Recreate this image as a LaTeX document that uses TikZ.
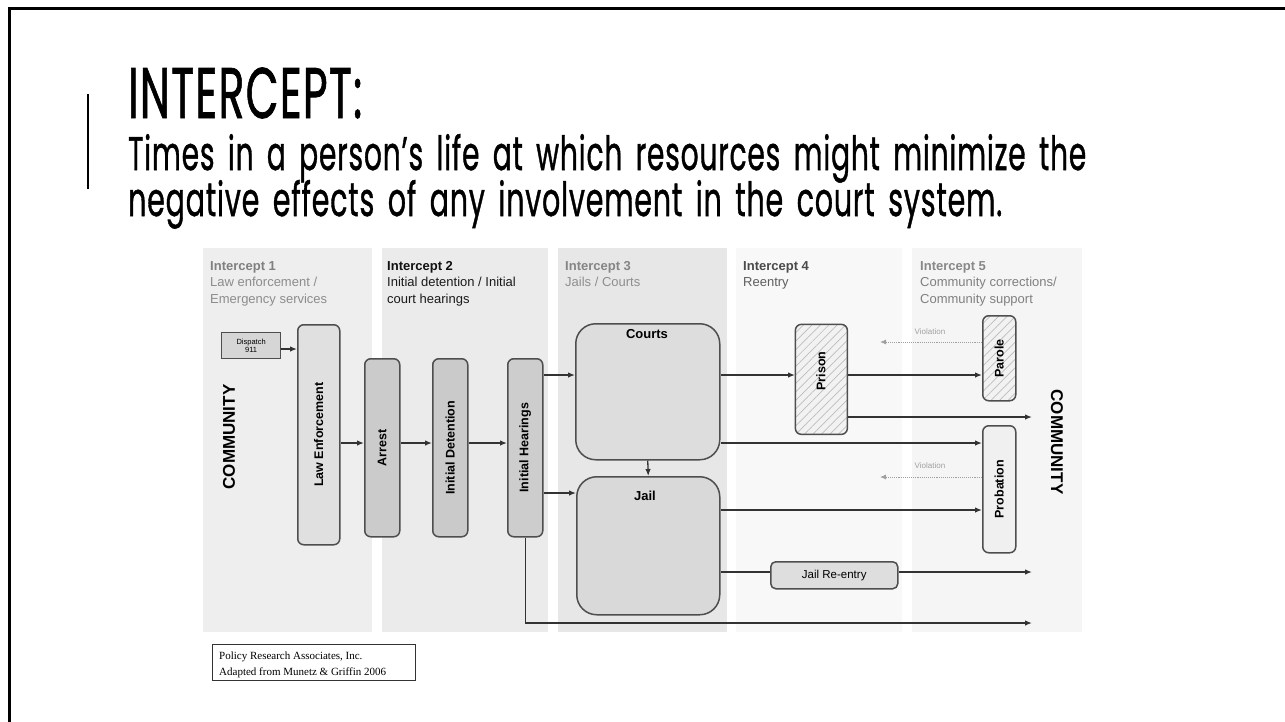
\documentclass[tikz,border=0pt]{standalone}
\usepackage{fontspec}
\usepackage{graphicx}
\setmainfont{Liberation Sans}
\newfontfamily\twfont[LetterSpace=3, WordSpace=1.6, FakeBold=1.2]{Poppins}
\newfontfamily\prafont{Liberation Serif}
\usetikzlibrary{arrows.meta,patterns.meta}
\definecolor{boxline}{HTML}{4E4E4E}
\definecolor{arrowc}{HTML}{333333}
\definecolor{pone}{HTML}{EEEEEE}
\definecolor{ptwo}{HTML}{EBEBEB}
\definecolor{pthree}{HTML}{E7E7E7}
\definecolor{pfour}{HTML}{F8F8F8}
\definecolor{pfive}{HTML}{F5F5F5}
\definecolor{hatchbg}{HTML}{F2F2F2}
\definecolor{hatchln}{HTML}{BDBDBD}
\definecolor{viol}{HTML}{A0A0A0}
\definecolor{cdisp}{HTML}{D6D6D6}
\definecolor{cle}{HTML}{E0E0E0}
\definecolor{carrest}{HTML}{CBCBCB}
\definecolor{cidet}{HTML}{CACACA}
\definecolor{cihear}{HTML}{CDCDCD}
\definecolor{ccourts}{HTML}{DDDDDD}
\definecolor{cjail}{HTML}{D9D9D9}
\definecolor{cprob}{HTML}{F0F0F0}
\definecolor{creentry}{HTML}{DEDEDE}
\begin{document}
\begin{tikzpicture}[x=1pt,y=-1pt,
  panel/.style={anchor=north west, inner sep=0pt, minimum height=384pt},
  head/.style={anchor=north west, inner sep=0pt, align=left, font=\fontsize{13}{16.5}\selectfont},
  box/.style={draw=boxline, line width=1.5pt, rounded corners=6pt, anchor=north west, inner sep=0pt,
              font=\bfseries\fontsize{12.5}{14}\selectfont},
  hatchbox/.style={box, preaction={fill=hatchbg},
              pattern={Lines[angle=45,distance=6pt,line width=0.7pt]}, pattern color=hatchln},
  arr/.style={draw=arrowc, line width=1.3pt, -{Latex[length=7pt,width=5.5pt]}},
  plain/.style={draw=arrowc, line width=1.3pt},
  violarr/.style={draw=viol, line width=0.9pt, densely dotted, -{Latex[length=6pt,width=5pt]}},
  community/.style={inner sep=0pt, font=\bfseries\fontsize{17}{17}\selectfont},
  tiny/.style={inner sep=0pt, text=viol, font=\fontsize{8}{9}\selectfont}
]
\useasboundingbox (0,0) rectangle (1285,721);
\fill[white] (0,0) rectangle (1285,721);

% slide frame
\coordinate (fBL) at (9.5,722);
\coordinate (fTL) at (9.5,8.5);
\coordinate (fTR) at (1286,8.5);
\draw[line width=3pt] (fBL) -- (fTL) -- (fTR);
\coordinate (barT) at (88,94);
\coordinate (barB) at (88,189);
\draw[line width=2pt] (barT) -- (barB);

% title
\node[anchor=base west, inner sep=0pt] (title) at (128,118)
  {\resizebox{234pt}{50.5pt}{\twfont INTERCEPT:}};
\node[anchor=base west, inner sep=0pt] (sub1) at (128,170)
  {\resizebox{958pt}{36pt}{\twfont Times in a person’s life at which resources might minimize the}};
\node[anchor=base west, inner sep=0pt] (sub2) at (128,216)
  {\resizebox{874pt}{36pt}{\twfont negative effects of any involvement in the court system.}};

% intercept panels
\node[panel, fill=pone,   minimum width=169pt] (pan1) at (203,248) {};
\node[panel, fill=ptwo,   minimum width=166pt] (pan2) at (382,248) {};
\node[panel, fill=pthree, minimum width=169pt] (pan3) at (558,248) {};
\node[panel, fill=pfour,  minimum width=166pt] (pan4) at (736,248) {};
\node[panel, fill=pfive,  minimum width=170pt] (pan5) at (912,248) {};

\node[head] (h1) at (210,261)
  {\textcolor[HTML]{808080}{\bfseries Intercept 1}\\
   \textcolor[HTML]{8C8C8C}{Law enforcement /}\\
   \textcolor[HTML]{8C8C8C}{Emergency services}};
\node[head] (h2) at (387,261)
  {\textcolor[HTML]{111111}{\bfseries Intercept 2}\\
   \textcolor[HTML]{1A1A1A}{Initial detention / Initial}\\
   \textcolor[HTML]{1A1A1A}{court hearings}};
\node[head] (h3) at (565,261)
  {\textcolor[HTML]{858585}{\bfseries Intercept 3}\\
   \textcolor[HTML]{8E8E8E}{Jails / Courts}};
\node[head] (h4) at (743,261)
  {\textcolor[HTML]{4A4A4A}{\bfseries Intercept 4}\\
   \textcolor[HTML]{5E5E5E}{Reentry}};
\node[head] (h5) at (920,261)
  {\textcolor[HTML]{888888}{\bfseries Intercept 5}\\
   \textcolor[HTML]{808080}{Community corrections/}\\
   \textcolor[HTML]{808080}{Community support}};

% community labels
\node[community, rotate=90] (commL) at (229,437) {COMMUNITY};
\node[community, rotate=-90] (commR) at (1057,442) {COMMUNITY};

% boxes
\node[box, rounded corners=0pt, line width=1.3pt, fill=cdisp, minimum width=59pt, minimum height=26pt,
      align=center, font=\fontsize{7.5}{8}\selectfont] (disp) at (221,332) {Dispatch\\911};
\node[box, fill=cle, minimum width=42pt, minimum height=220pt] (le) at (297,324)
  {\rotatebox{90}{Law Enforcement}};
\node[box, fill=carrest, minimum width=35pt, minimum height=178pt] (arrest) at (364,358)
  {\rotatebox{90}{Arrest}};
\node[box, fill=cidet, minimum width=35pt, minimum height=178pt] (idet) at (432,358)
  {\rotatebox{90}{Initial Detention}};
\node[box, fill=cihear, minimum width=35pt, minimum height=178pt] (ihear) at (507,358)
  {\rotatebox{90}{Initial Hearings}};
\node[box, rounded corners=20pt, fill=ccourts, minimum width=144pt, minimum height=136pt] (courts) at (575,323) {};
\node[inner sep=0pt, font=\bfseries\fontsize{13}{14}\selectfont] (courtsl) at (647,334) {Courts};
\node[box, rounded corners=20pt, fill=cjail, minimum width=143pt, minimum height=138pt] (jail) at (576,476) {};
\node[inner sep=0pt, font=\bfseries\fontsize{13}{14}\selectfont] (jaill) at (645,496) {Jail};
\node[hatchbox, minimum width=52pt, minimum height=110pt] (prison) at (795,324) {};
\node[inner sep=0pt, rotate=90, font=\bfseries\fontsize{12.5}{14}\selectfont] (prisonl) at (821,371) {Prison};
\node[hatchbox, minimum width=33pt, minimum height=85pt] (parole) at (982,315)
  {\rotatebox{90}{Parole}};
\node[box, fill=cprob, minimum width=33pt, minimum height=127pt] (prob) at (982,425)
  {\rotatebox{90}{Probation}};
\node[box, rounded corners=5pt, fill=creentry, minimum width=127pt, minimum height=27pt,
      font=\fontsize{11.5}{12}\selectfont] (reentry) at (770,561) {Jail Re-entry};

% levels
\coordinate (yA) at (0,349);
\coordinate (yB) at (0,443);
\coordinate (yC) at (0,375);
\coordinate (yD) at (0,493);
\coordinate (yE) at (0,417);
\coordinate (yF) at (0,510);
\coordinate (yG) at (0,572);
\coordinate (yH) at (0,623);
\coordinate (yV1) at (0,342);
\coordinate (yV2) at (0,477);
\coordinate (xEnd) at (1032,0);
\coordinate (xV) at (880,0);

% connectors
\draw[arr] (disp.east |- yA) -- (le.west |- yA);
\draw[arr] (le.east |- yB) -- (arrest.west |- yB);
\draw[arr] (arrest.east |- yB) -- (idet.west |- yB);
\draw[arr] (idet.east |- yB) -- (ihear.west |- yB);
\draw[arr] (ihear.east |- yC) -- (courts.west |- yC);
\draw[arr] (ihear.east |- yD) -- (jail.west |- yD);
\draw[arr] (courts.south) -- (jail.north);
\draw[arr] (courts.east |- yC) -- (prison.west |- yC);
\draw[arr] (prison.east |- yC) -- (parole.west |- yC);
\draw[arr] (prison.east |- yE) -- (xEnd |- yE);
\draw[arr] (courts.east |- yB) -- (prob.west |- yB);
\draw[arr] (jail.east |- yF) -- (prob.west |- yF);
\draw[plain] (jail.east |- yG) -- (reentry.west |- yG);
\draw[arr] (reentry.east |- yG) -- (xEnd |- yG);
\draw[arr] (ihear.south) -- (ihear.south |- yH) -- (xEnd |- yH);

% violations
\draw[violarr] (parole.west |- yV1) -- (xV |- yV1);
\draw[violarr] (prob.west |- yV2) -- (xV |- yV2);
\node[tiny] (viol1) at (930,332) {Violation};
\node[tiny] (viol2) at (930,466) {Violation};

% attribution
\node[draw=arrowc, line width=1pt, anchor=north west, inner sep=0pt, minimum width=203pt, minimum height=36pt] (pra) at (212,644) {};
\node[anchor=base west, inner sep=0pt, font=\prafont\fontsize{11}{12}\selectfont] (pra1) at (219,659) {Policy Research Associates, Inc.};
\node[anchor=base west, inner sep=0pt, font=\prafont\fontsize{11}{12}\selectfont] (pra2) at (219,675) {Adapted from Munetz \& Griffin 2006};
\end{tikzpicture}
\end{document}
